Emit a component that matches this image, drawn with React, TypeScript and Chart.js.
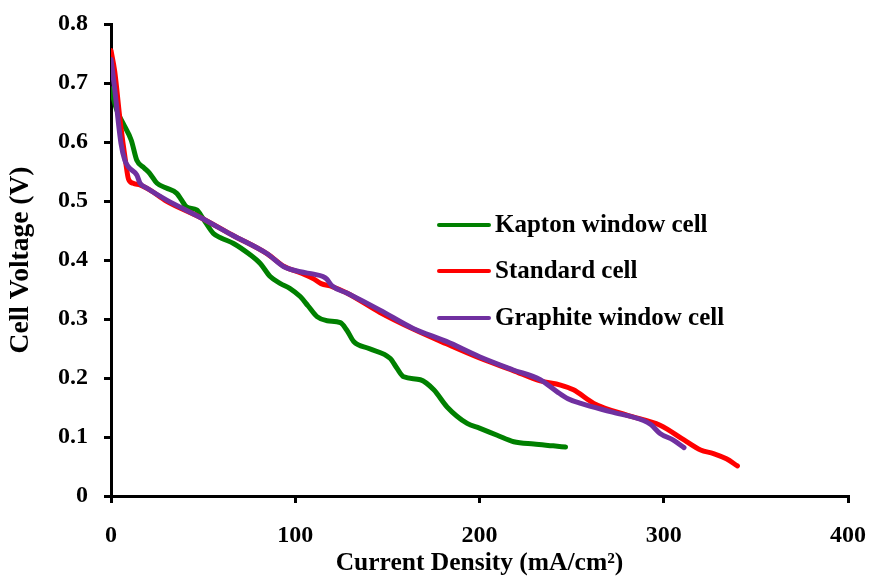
import React, { useEffect, useRef } from "react";
import { Chart, registerables } from "chart.js";

Chart.register(...registerables);

const kaptonX = [0, 3, 6.5, 11, 14, 18, 21, 25, 30, 35.7, 38, 41, 46.5, 50, 55.6, 60, 66.5, 75, 81, 86.4, 92, 97, 102.7, 107, 111.8, 117.3, 124.5, 128, 131.7, 140, 151.6, 155.3, 158.9, 167.9, 175.2, 182.4, 193.3, 200, 209.6, 218.6, 229.5, 240, 246.7];
const kaptonY = [0.69, 0.655, 0.632, 0.603, 0.569, 0.556, 0.547, 0.53, 0.522, 0.513, 0.503, 0.49, 0.485, 0.47, 0.445, 0.437, 0.428, 0.41, 0.394, 0.372, 0.36, 0.352, 0.338, 0.322, 0.304, 0.297, 0.294, 0.281, 0.262, 0.25, 0.233, 0.216, 0.202, 0.197, 0.18, 0.151, 0.123, 0.115, 0.103, 0.092, 0.088, 0.085, 0.083];

const standardX = [0, 2, 5, 8, 9.5, 12, 16, 21, 30, 48, 66, 85, 94, 103, 110, 114, 120, 128, 146, 164, 182, 200, 218, 233, 244, 251, 262, 280, 298, 311, 320, 327, 334, 340];
const standardY = [0.755, 0.72, 0.635, 0.565, 0.537, 0.53, 0.527, 0.519, 0.5, 0.473, 0.442, 0.41, 0.389, 0.378, 0.368, 0.36, 0.355, 0.344, 0.311, 0.283, 0.258, 0.234, 0.213, 0.195, 0.188, 0.18, 0.157, 0.137, 0.12, 0.095, 0.078, 0.072, 0.063, 0.051];

const graphiteX = [0, 2, 5.4, 7.5, 9.4, 14, 15.8, 19.4, 30, 48, 66, 84.6, 93.6, 102.7, 110, 115, 117, 120, 128, 146, 164, 182, 200, 218, 233, 242, 248, 255, 271, 289, 293, 298, 305, 311];
const graphiteY = [0.74, 0.69, 0.598, 0.569, 0.558, 0.544, 0.53, 0.522, 0.502, 0.473, 0.442, 0.411, 0.389, 0.38, 0.376, 0.372, 0.368, 0.356, 0.344, 0.315, 0.284, 0.262, 0.236, 0.214, 0.197, 0.177, 0.165, 0.157, 0.143, 0.128, 0.121, 0.106, 0.095, 0.082];

const seriesLabels = ["Kapton window cell", "Standard cell", "Graphite window cell"];
const seriesColors = ["#008000", "#FF0000", "#7030A0"];

const xTitle = "Current Density (mA/cm\u00B2)";
const yTitle = "Cell Voltage (V)";

const FONT = "'Liberation Serif', 'Times New Roman', serif";

const toPts = (xs: number[], ys: number[]) => xs.map((x, i) => ({ x, y: ys[i] }));

const legendPlugin = {
  id: "insideLegend",
  afterDraw(chart: any) {
    const ctx = chart.ctx;
    const rows = [225, 271, 318];
    ctx.save();
    chart.data.datasets.forEach((ds: any, i: number) => {
      const y = rows[i];
      ctx.strokeStyle = ds.borderColor;
      ctx.lineWidth = 4;
      ctx.lineCap = "round";
      ctx.beginPath();
      ctx.moveTo(439, y);
      ctx.lineTo(489, y);
      ctx.stroke();
      ctx.fillStyle = "#000";
      ctx.font = `bold 25px ${FONT}`;
      ctx.textBaseline = "middle";
      ctx.textAlign = "left";
      ctx.fillText(ds.label, 495, y + 1);
    });
    ctx.restore();
  },
};

export default function App() {
  const ref = useRef<HTMLCanvasElement | null>(null);
  useEffect(() => {
    document.body.style.margin = "0";
    const datasets = [
      { label: seriesLabels[0], data: toPts(kaptonX, kaptonY), borderColor: seriesColors[0], order: 3 },
      { label: seriesLabels[1], data: toPts(standardX, standardY), borderColor: seriesColors[1], order: 2 },
      { label: seriesLabels[2], data: toPts(graphiteX, graphiteY), borderColor: seriesColors[2], order: 1 },
    ].map((d) => ({
      ...d,
      backgroundColor: d.borderColor,
      borderWidth: 5,
      pointRadius: 0,
      tension: 0.4,
      cubicInterpolationMode: "monotone" as const,
      borderCapStyle: "round" as const,
      borderJoinStyle: "round" as const,
      fill: false,
    }));
    const chart = new Chart(ref.current!, {
      type: "line",
      data: { datasets },
      options: {
        responsive: false,
        animation: false,
        layout: { padding: { top: 24, right: 22, left: 0, bottom: 0 } },
        plugins: { legend: { display: false }, tooltip: { enabled: false } },
        scales: {
          x: {
            type: "linear",
            min: 0,
            max: 400,
            ticks: { stepSize: 100, color: "#000", font: { family: FONT, size: 24, weight: "bold" }, padding: 18, maxRotation: 0 },
            grid: { drawOnChartArea: false, color: "#000", lineWidth: 3, tickLength: 7 },
            border: { color: "#000", width: 3 },
            title: { display: true, text: xTitle, color: "#000", font: { family: FONT, size: 25.5, weight: "bold" }, padding: 0 },
            afterFit: (s: any) => {
              s.height = 83;
              s.paddingLeft = 0;
              s.paddingRight = 0;
            },
          },
          y: {
            type: "linear",
            min: 0,
            max: 0.8,
            ticks: {
              stepSize: 0.1,
              color: "#000",
              font: { family: FONT, size: 24, weight: "bold" },
              padding: 16,
              callback: (v: any) => (Number(v) === 0 ? "0" : Number(v).toFixed(1)),
            },
            grid: { drawOnChartArea: false, color: "#000", lineWidth: 3, tickLength: 7 },
            border: { color: "#000", width: 3 },
            title: { display: true, text: yTitle, color: "#000", font: { family: FONT, size: 27.5, weight: "bold" }, padding: 4 },
            afterFit: (s: any) => {
              s.width = 111;
              s.paddingTop = 0;
              s.paddingBottom = 0;
            },
          },
        },
      },
      plugins: [legendPlugin],
    });
    return () => chart.destroy();
  }, []);
  return (
    <div style={{ width: 870, height: 579, background: "#fff" }}>
      <canvas ref={ref} width={870} height={579} />
    </div>
  );
}
